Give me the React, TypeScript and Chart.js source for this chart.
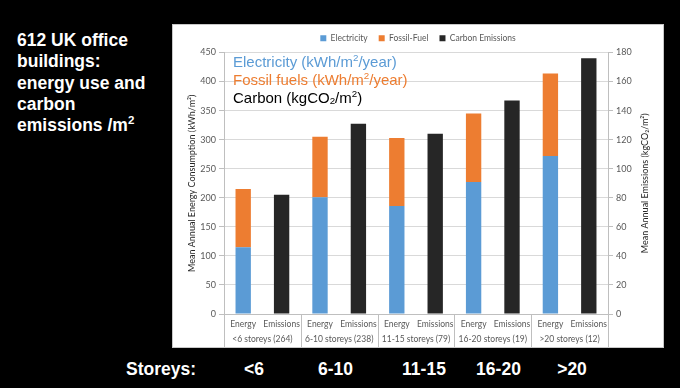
import React, { useEffect, useRef } from "react";
import { Chart, registerables } from "chart.js";

Chart.register(...registerables);

// ---- data ----
const groups = ["<6", "6-10", "11-15", "16-20", ">20"];
const groupLabels = [
  "<6 storeys (264)",
  "6-10 storeys (238)",
  "11-15 storeys (79)",
  "16-20 storeys (19)",
  ">20 storeys (12)",
];
const barLabels = ["Energy", "Emissions"];
const electricity = [115, 201, 186, 227, 272];
const fossilFuel = [100, 104, 117, 118, 142];
const carbon = [82, 131, 124, 147, 176];
const energyMax = 450;
const energyStep = 50;
const carbonMax = 180;
const carbonStep = 20;
const rightTitle = "Mean Annual Emissions (kgCO₂/m²)";

const BLUE = "#5b9bd5";
const ORANGE = "#ed7d31";
const DARK = "#262626";
const TICK_FONT = '"Lato", "Liberation Sans", sans-serif';

type Seg = { t: string; m?: "sup" | "sub" };

function drawRich(ctx: CanvasRenderingContext2D, x: number, y: number, segs: Seg[], size: number, color: string) {
  let cx = x;
  ctx.fillStyle = color;
  ctx.textBaseline = "middle";
  ctx.textAlign = "left";
  for (const seg of segs) {
    const s = seg.m ? size * 0.65 : size;
    ctx.font = `${s}px "Liberation Sans", Arial, sans-serif`;
    const dy = seg.m === "sup" ? -size * 0.3 : seg.m === "sub" ? size * 0.22 : 0;
    ctx.fillText(seg.t, cx, y + dy);
    cx += ctx.measureText(seg.t).width;
  }
}

const overlayPlugin = {
  id: "overlay",
  afterDraw(chart: any) {
    const { ctx, chartArea, scales } = chart;
    const x = scales.x;
    const n = groups.length;
    ctx.save();
    // group separators
    ctx.strokeStyle = "#bfbfbf";
    ctx.lineWidth = 1;
    for (let g = 0; g <= n; g++) {
      let px: number;
      if (g === 0) px = x.left;
      else if (g === n) px = x.right;
      else px = (x.getPixelForValue(2 * g - 1) + x.getPixelForValue(2 * g)) / 2;
      px = Math.round(px) + 0.5;
      ctx.beginPath();
      ctx.moveTo(px, chartArea.bottom);
      ctx.lineTo(px, chart.height);
      ctx.stroke();
    }
    // group labels
    ctx.fillStyle = "#595959";
    ctx.font = `8.5px ${TICK_FONT}`;
    ctx.textAlign = "center";
    ctx.textBaseline = "middle";
    for (let g = 0; g < n; g++) {
      const cx = (x.getPixelForValue(2 * g) + x.getPixelForValue(2 * g + 1)) / 2;
      ctx.fillText(groupLabels[g], cx, chartArea.bottom + 25);
    }
    // right axis title, reading bottom-to-top
    ctx.save();
    ctx.translate(scales.y1.right - 18, (chartArea.top + chartArea.bottom) / 2);
    ctx.rotate(-Math.PI / 2);
    ctx.fillStyle = "#262626";
    ctx.font = `9px ${TICK_FONT}`;
    ctx.fillText(rightTitle, 0, 0);
    ctx.restore();
    // annotations
    const lx = chartArea.left + 9;
    const ty = chartArea.top + 10;
    drawRich(ctx, lx, ty, [{ t: "Electricity (kWh/m" }, { t: "2", m: "sup" }, { t: "/year)" }], 15, BLUE);
    drawRich(ctx, lx, ty + 18, [{ t: "Fossil fuels (kWh/m" }, { t: "2", m: "sup" }, { t: "/year)" }], 15, ORANGE);
    drawRich(
      ctx,
      lx,
      ty + 36,
      [{ t: "Carbon (kgCO" }, { t: "2", m: "sub" }, { t: "/m" }, { t: "2", m: "sup" }, { t: ")" }],
      15,
      "#000000"
    );
    ctx.restore();
  },
};

function ChartBox() {
  const ref = useRef<HTMLCanvasElement | null>(null);
  useEffect(() => {
    if (!ref.current) return;
    const labels: string[] = [];
    const elec: (number | null)[] = [];
    const fos: (number | null)[] = [];
    const carb: (number | null)[] = [];
    groups.forEach((_, i) => {
      labels.push(barLabels[0], barLabels[1]);
      elec.push(electricity[i], null);
      fos.push(fossilFuel[i], null);
      carb.push(null, carbon[i]);
    });
    const chart = new Chart(ref.current, {
      type: "bar",
      data: {
        labels,
        datasets: [
          { label: "Electricity", data: elec, backgroundColor: BLUE, yAxisID: "y" },
          { label: "Fossil-Fuel", data: fos, backgroundColor: ORANGE, yAxisID: "y" },
          { label: "Carbon Emissions", data: carb, backgroundColor: DARK, yAxisID: "y1" },
        ],
      },
      options: {
        animation: false,
        responsive: true,
        maintainAspectRatio: false,
        datasets: { bar: { barPercentage: 0.4, categoryPercentage: 1 } },
        layout: { padding: { top: -2, left: 0, right: 0, bottom: 0 } },
        plugins: {
          tooltip: { enabled: false },
          legend: {
            position: "top",
            labels: {
              boxWidth: 6,
              boxHeight: 6,
              padding: 11,
              color: "#595959",
              font: { size: 8.5, family: TICK_FONT },
            },
          },
        },
        scales: {
          x: {
            stacked: true,
            grid: { display: false, drawTicks: false },
            border: { display: true, color: "#bfbfbf" },
            ticks: {
              autoSkip: false,
              maxRotation: 0,
              padding: 5,
              color: "#595959",
              font: { size: 8.5, family: TICK_FONT },
            },
            afterFit: (s: any) => {
              s.height = 33;
            },
          },
          y: {
            position: "left",
            stacked: true,
            min: 0,
            max: energyMax,
            ticks: { stepSize: energyStep, padding: 3, color: "#595959", font: { size: 9, family: TICK_FONT } },
            grid: { color: "#d9d9d9", tickColor: "#bfbfbf", tickLength: 5 },
            border: { display: true, color: "#bfbfbf" },
            title: {
              display: true,
              text: "Mean Annual Energy Consumption (kWh/m²)",
              color: "#262626",
              font: { size: 9, family: TICK_FONT },
              padding: { top: 14, bottom: 0 },
            },
            afterFit: (s: any) => {
              s.width = 51;
            },
          },
          y1: {
            position: "right",
            stacked: true,
            min: 0,
            max: carbonMax,
            ticks: { stepSize: carbonStep, padding: 3, color: "#595959", font: { size: 9, family: TICK_FONT } },
            grid: { drawOnChartArea: false, tickColor: "#bfbfbf", tickLength: 5 },
            border: { display: true, color: "#bfbfbf" },
            afterFit: (s: any) => {
              s.width = 55;
            },
          },
        },
      },
      plugins: [overlayPlugin],
    } as any);
    return () => chart.destroy();
  }, []);
  return <canvas ref={ref} />;
}

const bottomItems = [
  { t: "Storeys:", x: 161 },
  { t: groups[0], x: 254 },
  { t: groups[1], x: 335.5 },
  { t: groups[2], x: 424 },
  { t: groups[3], x: 498.5 },
  { t: groups[4], x: 572 },
];

export default function App() {
  return (
    <div
      style={{
        position: "absolute",
        left: 0,
        top: 0,
        width: 680,
        height: 388,
        background: "#000",
        overflow: "hidden",
        fontFamily: '"Liberation Sans", Arial, sans-serif',
        color: "#ffffff",
      }}
    >
      <div
        style={{
          position: "absolute",
          left: 17,
          top: 30,
          width: 155,
          fontWeight: "bold",
          fontSize: 17.5,
          lineHeight: "21.3px",
        }}
      >
        612 UK office
        <br />
        buildings:
        <br />
        energy use and
        <br />
        carbon
        <br />
        emissions /m
        <span style={{ fontSize: 11.5, position: "relative", top: -7 }}>2</span>
      </div>
      <div
        style={{
          position: "absolute",
          left: 172,
          top: 24,
          width: 492,
          height: 324,
          boxSizing: "border-box",
          border: "1px solid #c8c8c8",
          background: "#fff",
        }}
      >
        <div style={{ position: "relative", width: 490, height: 322 }}>
          <ChartBox />
        </div>
      </div>
      {bottomItems.map((b) => (
        <div
          key={b.t}
          style={{
            position: "absolute",
            left: b.x - 60,
            width: 120,
            top: 359,
            textAlign: "center",
            fontWeight: "bold",
            fontSize: 17.5,
            lineHeight: "21.3px",
          }}
        >
          {b.t}
        </div>
      ))}
    </div>
  );
}
